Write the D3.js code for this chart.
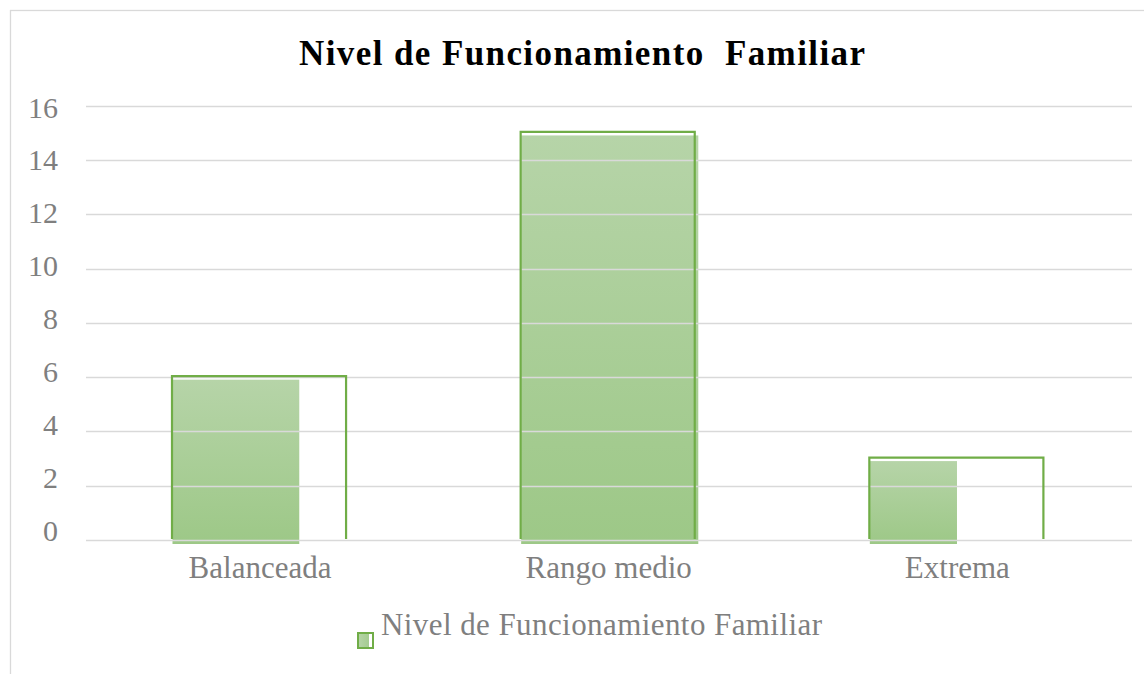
<!DOCTYPE html>
<html>
<head>
<meta charset="utf-8">
<script src="https://cdn.jsdelivr.net/npm/d3@7"></script>
<style>
html,body{margin:0;padding:0;background:#fff;}
svg{display:block;}
</style>
</head>
<body>
<svg id="chart" width="1144" height="674"></svg>
<script>
const categories = ["Balanceada", "Rango medio", "Extrema"];
const values = [6, 15, 3];
const yTicks = [0, 2, 4, 6, 8, 10, 12, 14, 16];
const seriesName = "Nivel de Funcionamiento Familiar";
const titleText = "Nivel de Funcionamiento  Familiar";

// style-only: visible width fraction of each bar's fill (rendering artefact of the original)
const fillFrac = [0.72, 1.006, 0.495];

const svg = d3.select("#chart");
const font = "Liberation Serif, Times New Roman, serif";
const grey = "#7f7f7f";

// chart frame
svg.append("rect").attr("x", 10.5).attr("y", 10.5).attr("width", 1300).attr("height", 900)
  .attr("fill", "none").attr("stroke", "#d9d9d9").attr("stroke-width", 1.3);

const y = d3.scaleLinear().domain([0, 16]).range([540, 105.8]);
// tick labels in the original sit on a slightly tighter spacing than the gridlines
const yLab = d3.scaleLinear().domain([0, 16]).range([530, 107]);
const x = d3.scaleBand().domain(categories).range([84.7, 1130.7]).paddingInner(0.495).paddingOuter(0.2475);

const defs = svg.append("defs");
const grad = defs.append("linearGradient").attr("id", "g").attr("x1", 0).attr("y1", 0).attr("x2", 0).attr("y2", 1);
grad.append("stop").attr("offset", "0%").attr("stop-color", "#b6d4a8");
grad.append("stop").attr("offset", "100%").attr("stop-color", "#9dc887");
const lg = defs.append("linearGradient").attr("id", "lg").attr("x1", 0).attr("y1", 0).attr("x2", 1).attr("y2", 0);
lg.append("stop").attr("offset", "0%").attr("stop-color", "#b6d4a8");
lg.append("stop").attr("offset", "70%").attr("stop-color", "#a5cc92");
lg.append("stop").attr("offset", "71%").attr("stop-color", "#ffffff");
lg.append("stop").attr("offset", "100%").attr("stop-color", "#ffffff");

// bar fills
svg.append("g").selectAll("rect").data(values).join("rect")
  .attr("x", (d, i) => x(categories[i]) + 1.5)
  .attr("y", d => y(d) + 2.5)
  .attr("width", (d, i) => x.bandwidth() * fillFrac[i])
  .attr("height", d => y(0) + 4 - (y(d) + 2.5))
  .attr("fill", "url(#g)");

// gridlines
svg.append("g").selectAll("line").data(yTicks).join("line")
  .attr("x1", 86).attr("x2", 1132)
  .attr("y1", d => Math.round(y(d)) + 0.5).attr("y2", d => Math.round(y(d)) + 0.5)
  .attr("stroke", "#d9d9d9").attr("stroke-width", 1.5);

// bar outlines (open at bottom)
svg.append("g").selectAll("path").data(values).join("path")
  .attr("d", (d, i) => {
    const x0 = x(categories[i]) + 1, x1 = x(categories[i]) + x.bandwidth() - 1, yt = y(d) - 1, yb = y(0) - 1;
    return `M${x0},${yb}V${yt}H${x1}V${yb}`;
  })
  .attr("fill", "none").attr("stroke", "#70ad47").attr("stroke-width", 2.2);

// y tick labels
svg.append("g").selectAll("text").data(yTicks).join("text")
  .attr("x", 58).attr("y", d => yLab(d) + 10.5)
  .attr("text-anchor", "end")
  .attr("font-family", font).attr("font-size", 30).attr("fill", grey)
  .text(d => d);

// category labels
svg.append("g").selectAll("text").data(categories).join("text")
  .attr("x", d => x(d) + x.bandwidth() / 2 + 1)
  .attr("y", 578)
  .attr("text-anchor", "middle")
  .attr("font-family", font).attr("font-size", 31).attr("fill", grey)
  .text(d => d);

// title
svg.append("text")
  .attr("x", 299).attr("y", 65)
  .attr("font-family", font).attr("font-size", 35).attr("font-weight", "bold").attr("fill", "#000")
  .attr("textLength", 566).attr("lengthAdjust", "spacing")
  .style("white-space", "pre")
  .text(titleText);

// legend
svg.append("rect").attr("x", 358).attr("y", 633).attr("width", 15).attr("height", 15)
  .attr("fill", "url(#lg)").attr("stroke", "#70ad47").attr("stroke-width", 2);
svg.append("text")
  .attr("x", 381).attr("y", 635)
  .attr("font-family", font).attr("font-size", 31).attr("fill", grey)
  .attr("textLength", 441).attr("lengthAdjust", "spacing")
  .text(seriesName);
</script>
</body>
</html>
